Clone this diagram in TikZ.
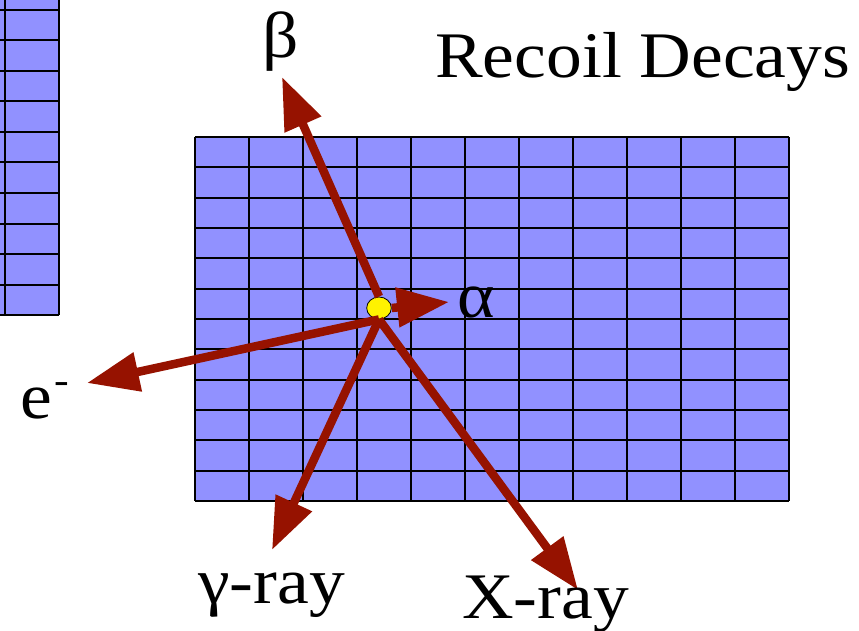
\documentclass[tikz,border=0pt]{standalone}
\usepackage{fontspec}
\setmainfont{Liberation Serif}
\usetikzlibrary{arrows.meta}
\definecolor{gridfill}{RGB}{145,145,255}
\definecolor{arrowred}{RGB}{150,18,0}
\begin{document}
\begin{tikzpicture}[x=1pt,y=-1pt,
  lbl/.style={font=\fontsize{65}{78}\selectfont, inner sep=0pt, xscale=1.1},
  ray/.style={draw=arrowred, line width=8.5pt, -{Triangle[length=52pt,width=38pt]}},
  cell/.style={draw=black, line width=2pt}]
\useasboundingbox (0,0) rectangle (859,631);
% partial grid at the left edge
\begin{scope}
\clip (0,0) rectangle (859,631);
\fill[gridfill] (0,-30) rectangle (59,315);
\foreach \k in {0,...,11} \draw[cell] (0,{315-30.5*\k}) -- (59,{315-30.5*\k});
\draw[cell] (5,-30) -- (5,315);
\draw[cell] (59,-30) -- (59,315);
\end{scope}
% main grid
\fill[gridfill] (195,137) rectangle (789,501);
\foreach \k in {0,...,12} \draw[cell] (195,{137+30.33*\k}) -- (789,{137+30.33*\k});
\foreach \k in {0,...,11} \draw[cell] ({195+54*\k},137) -- ({195+54*\k},501);
% decay point
\node[circle, fill=yellow, draw=black, line width=0.8pt, minimum size=22pt, inner sep=0pt, xscale=1.12] (dot) at (379,308) {};
% end points
\coordinate (tb) at (282,77);
\coordinate (ta) at (449,302);
\coordinate (te) at (87,383);
\coordinate (tg) at (272,550);
\coordinate (tx) at (578,590);
% rays
\draw[ray] (dot.north) -- (tb);
\draw[ray] (dot.east) -- (ta);
\draw[ray] (dot.south) -- (te);
\draw[ray] (dot.south) -- (tg);
\draw[ray] (dot.south) -- (tx);
% labels
\node[lbl, anchor=center] (beta) at (281,42) {β};
\node[lbl, anchor=base west] (title) at (435,78) {Recoil Decays};
\node[lbl, anchor=base west] (alpha) at (457,317) {α};
\node[lbl, anchor=base west] (elec) at (20,418) {e\kern2pt\raisebox{25pt}{\fontsize{40}{40}\selectfont -}};
\node[lbl, anchor=base west] (gamma) at (198,603) {γ-ray};
\node[lbl, anchor=base west] (xray) at (462,618) {X-ray};
\end{tikzpicture}
\end{document}
